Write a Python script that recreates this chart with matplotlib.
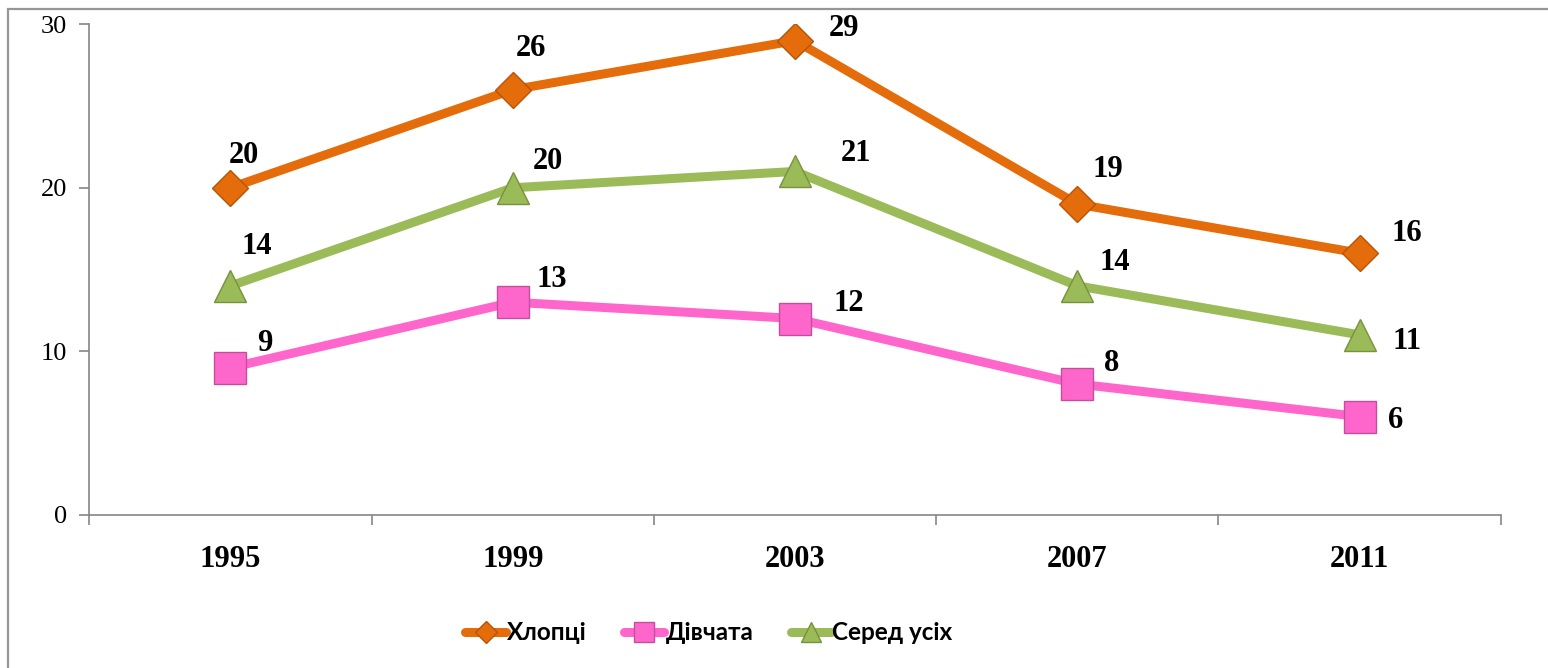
import matplotlib
matplotlib.use("Agg")
import matplotlib.pyplot as plt
from matplotlib.patches import Rectangle
import numpy as np

# data
years = ["1995", "1999", "2003", "2007", "2011"]
boys = [20, 26, 29, 19, 16]
girls = [9, 13, 12, 8, 6]
total = [14, 20, 21, 14, 11]
series_names = ["Хлопці", "Дівчата", "Серед усіх"]

# label offsets (points) for each value label
boys_off = [(10, 23), (13, 30), (35, 9), (22, 25), (34, 14)]
girls_off = [(25, 17), (28, 16), (39, 11), (25, 15), (26, -3)]
total_off = [(19, 28), (25, 19), (44, 13), (27, 17), (34, -5)]

fig = plt.figure(figsize=(15.48, 6.68), dpi=100)
ax = fig.add_axes([0.0577, 0.2295, 0.9118, 0.7341])

x = np.arange(len(years))
styles = [
    (boys, "#E46C0A", "D", 18, "#B65508", boys_off),
    (girls, "#FF66CC", "s", 23, "#C24E9C", girls_off),
    (total, "#9BBB59", "^", 23, "#76923C", total_off),
]
handles = []
for (vals, col, mk, ms, edge, offs), name in zip(styles, series_names):
    h, = ax.plot(x, vals, color=col, lw=6.5, marker=mk, markersize=ms,
                 markerfacecolor=col, markeredgecolor=edge, markeredgewidth=1,
                 label=name, solid_joinstyle="round", solid_capstyle="round",
                 zorder=3)
    handles.append(h)
    for xi, v, off in zip(x, vals, offs):
        ax.annotate(str(v), (xi, v), xytext=off, textcoords="offset points",
                    ha="center", va="center", fontsize=22, fontweight="bold",
                    family="Liberation Serif", color="black", zorder=4)

ax.set_xlim(-0.5, len(years) - 0.5)
ax.set_ylim(0, 30)
ax.set_yticks([0, 10, 20, 30])
ax.set_xticks(x)
ax.set_xticklabels(years, fontsize=22, fontweight="bold", family="Liberation Serif")
ax.set_xticks(np.arange(-0.5, len(years)), minor=True)
ax.tick_params(axis="x", which="major", length=0, pad=22)
ax.tick_params(axis="x", which="minor", length=7, width=1.2, color="#868686")
ax.tick_params(axis="y", length=7, width=1.2, color="#868686", pad=9)
for lab in ax.get_yticklabels():
    lab.set_fontsize(19)
    lab.set_family("Liberation Serif")

for s in ["top", "right"]:
    ax.spines[s].set_visible(False)
for s in ["left", "bottom"]:
    ax.spines[s].set_color("#868686")
    ax.spines[s].set_linewidth(1.2)

# outer chart frame (top and left edges visible)
fig.patches.append(Rectangle((8 / 1548, -0.1), 1.2, 1.1 - 9 / 668,
                             transform=fig.transFigure, fill=False,
                             edgecolor="#969696", linewidth=1.6))

fig.legend(handles=handles, loc="center", bbox_to_anchor=(709 / 1548, 1 - 633 / 668),
           ncol=3, frameon=False, markerscale=0.62, handlelength=1.65,
           handletextpad=0.05, columnspacing=1.55,
           prop={"family": "Lato", "weight": "bold", "size": 17.5})

fig.savefig("out.png", dpi=100)
